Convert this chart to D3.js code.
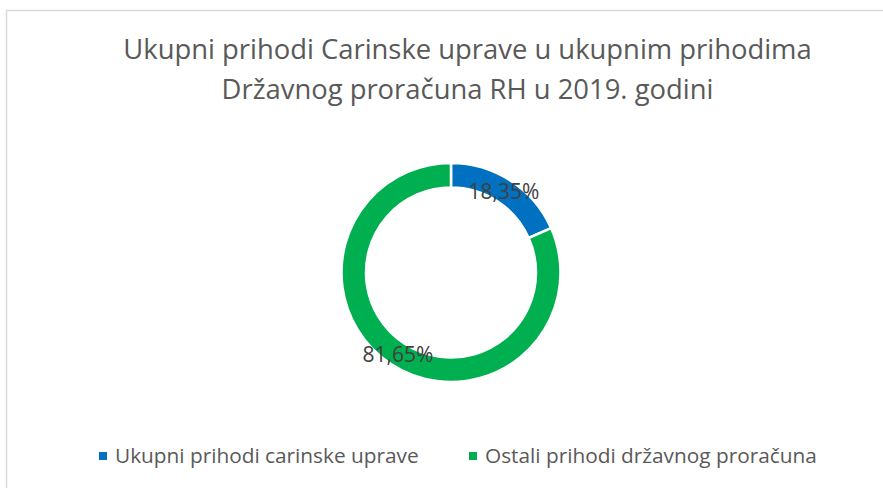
<!DOCTYPE html>
<html>
<head>
<meta charset="utf-8">
<script src="https://cdn.jsdelivr.net/npm/d3@7"></script>
<style>
  body { margin: 0; background: #fff; }
  text { font-family: "Open Sans", "Noto Sans", sans-serif; }
</style>
</head>
<body>
<div id="viz-container"></div>
<script>
// data
let categories = ["Ukupni prihodi carinske uprave", "Ostali prihodi državnog proračuna"];
let shares = [18.35, 81.65];
let colors = ["#0070C0", "#00B050"];
let titleLines = ["Ukupni prihodi Carinske uprave u ukupnim prihodima", "Državnog proračuna RH u 2019. godini"];

let width = 883, height = 488;

let viz = d3.select("#viz-container")
  .append("svg")
    .attr("width", width)
    .attr("height", height)
;

// chart area border (right/bottom edges fall outside the picture)
viz.append("rect")
    .attr("x", 6.5)
    .attr("y", 10.5)
    .attr("width", 900)
    .attr("height", 500)
    .attr("fill", "none")
    .attr("stroke", "#d9d9d9")
    .attr("stroke-width", 1.5)
;

// title
viz.append("g").selectAll("text")
  .data(titleLines)
  .join("text")
    .attr("x", 467.5)
    .attr("y", (d, i) => 59 + i * 40)
    .attr("text-anchor", "middle")
    .attr("font-size", 27.4)
    .attr("fill", "#595959")
    .text(d => d)
;

let cx = 451, cy = 272.5;
let outerR = 109.5, innerR = 85;

let pie = d3.pie().sort(null).value(d => d);
let arc = d3.arc().innerRadius(innerR).outerRadius(outerR);

let donut = viz.append("g").attr("transform", `translate(${cx},${cy})`);

donut.selectAll("path")
  .data(pie(shares))
  .join("path")
    .attr("d", arc)
    .attr("fill", (d, i) => colors[i])
    .attr("stroke", "#fff")
    .attr("stroke-width", 2.5)
;

let fmt = v => v.toFixed(2).replace(".", ",") + "%";

donut.selectAll("text")
  .data(pie(shares))
  .join("text")
    .attr("transform", d => `translate(${arc.centroid(d)})`)
    .attr("text-anchor", "middle")
    .attr("dy", "0.36em")
    .attr("font-size", 21)
    .attr("fill", "#404040")
    .text(d => fmt(d.data))
;

// legend
let legendX = [99, 469];
let legend = viz.append("g").selectAll("g")
  .data(categories)
  .join("g")
    .attr("transform", (d, i) => `translate(${legendX[i]},452)`)
;

legend.append("rect")
    .attr("width", 8)
    .attr("height", 8)
    .attr("fill", (d, i) => colors[i])
;

legend.append("text")
    .attr("x", 16)
    .attr("y", 4)
    .attr("dy", "0.35em")
    .attr("font-size", 20.8)
    .attr("fill", "#595959")
    .text(d => d)
;
</script>
</body>
</html>
